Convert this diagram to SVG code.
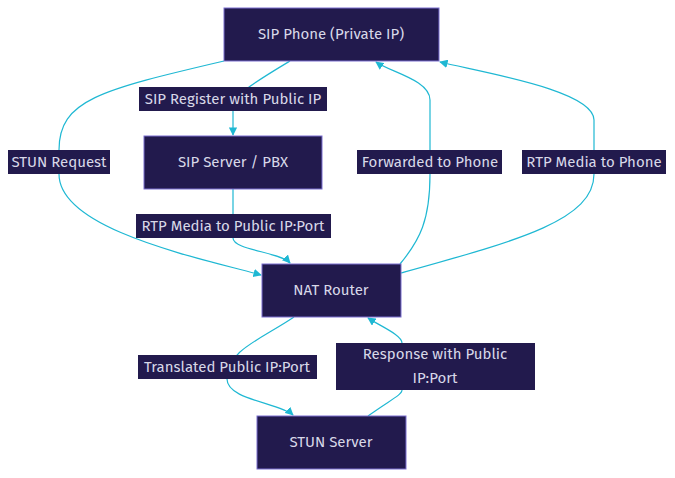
<svg xmlns="http://www.w3.org/2000/svg" width="675" height="478" viewBox="0 0 675 478">
<style>
.n rect{fill:#221a4d;stroke:#7b6fd0;stroke-width:1}
text{font-family:"Fira Sans","Noto Sans","Liberation Sans",sans-serif;font-size:15px;fill:#d8d8e8;text-anchor:middle;dominant-baseline:central}
.e path{fill:none;stroke:#1fb8d3;stroke-width:1.2}
.l rect{fill:#221a4d}
</style>
<defs><marker id="a" viewBox="0 0 10 10" refX="9" refY="5" markerWidth="7" markerHeight="7" orient="auto"><path d="M0,0L10,5L0,10z" fill="#1fb8d3"/></marker></defs>
<rect width="675" height="478" fill="#fff"/>
<g class="e">
<path d="M290,61 C250,85 233,95 233,111 L233,135" marker-end="url(#a)"/>
<path d="M224,61 C100,90 59,100 59,150 L59,174 C59,230 200,258 261,275" marker-end="url(#a)"/>
<path d="M233,189 L233,238 C233,250 280,252 290,263" marker-end="url(#a)"/>
<path d="M294,317 C260,340 227,350 227,379 C227,400 280,403 293,415" marker-end="url(#a)"/>
<path d="M368,416 C390,400 402,395 402,390 L402,343 C402,335 380,326 368,318" marker-end="url(#a)"/>
<path d="M400,264 C420,240 430,220 430,174 L430,100 C430,80 390,72 376,62" marker-end="url(#a)"/>
<path d="M401,273 C520,240 594,220 594,174 L594,120 C594,90 480,72 440,62" marker-end="url(#a)"/>
</g>
<g class="l">
<rect x="139" y="87" width="188" height="24"/><text x="233" y="99">SIP Register with Public IP</text>
<rect x="8" y="150" width="102" height="24"/><text x="59" y="162">STUN Request</text>
<rect x="357" y="150" width="145" height="24"/><text x="430" y="162">Forwarded to Phone</text>
<rect x="522" y="150" width="144" height="24"/><text x="594" y="162">RTP Media to Phone</text>
<rect x="136" y="214" width="195" height="24"/><text x="233" y="226">RTP Media to Public IP:Port</text>
<rect x="138" y="355" width="179" height="24"/><text x="227" y="367">Translated Public IP:Port</text>
<rect x="336" y="343" width="199" height="47"/><text x="435" y="354">Response with Public</text><text x="435" y="378">IP:Port</text>
</g>
<g id="phone" class="n"><rect x="224" y="8" width="215" height="53"/><text x="331" y="34">SIP Phone (Private IP)</text></g>
<g id="pbx" class="n"><rect x="144" y="136" width="178" height="53"/><text x="233" y="162">SIP Server / PBX</text></g>
<g id="nat" class="n"><rect x="262" y="264" width="139" height="53"/><text x="331" y="290">NAT Router</text></g>
<g id="stun" class="n"><rect x="257" y="416" width="149" height="53"/><text x="331" y="442">STUN Server</text></g>
</svg>
